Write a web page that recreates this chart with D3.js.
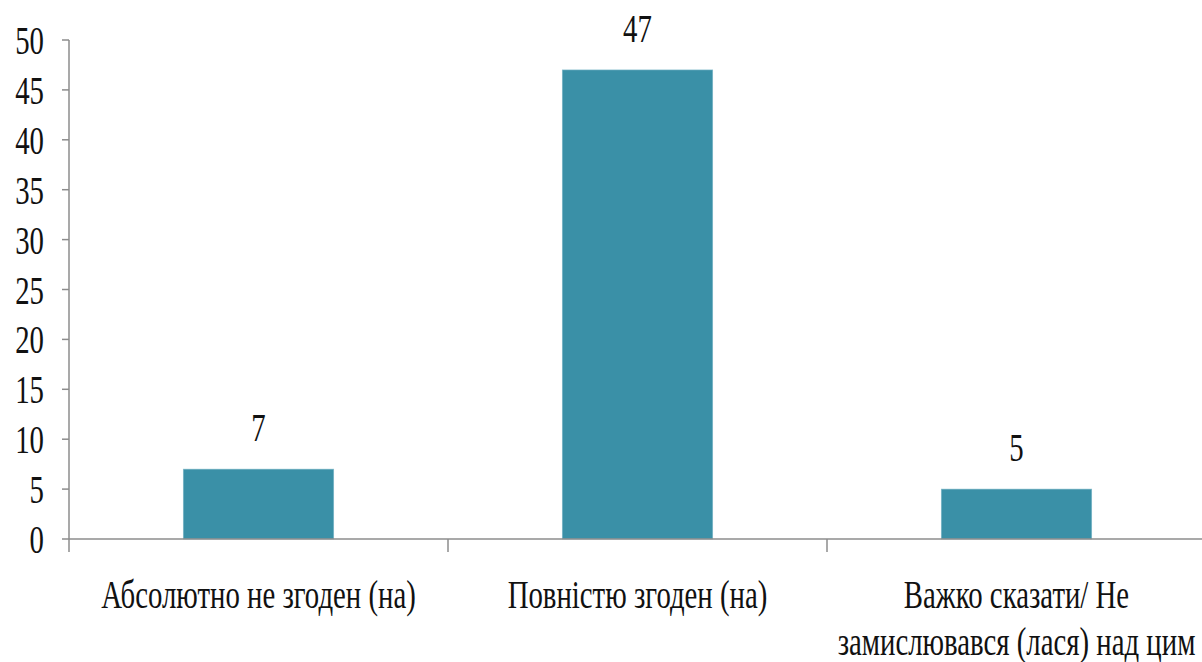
<!DOCTYPE html>
<html>
<head>
<meta charset="utf-8">
<script src="https://cdn.jsdelivr.net/npm/d3@7"></script>
<style>
  body { margin: 0; background: #fff; }
  text { font-family: "Liberation Serif", "Times New Roman", serif; fill: #111; }
</style>
</head>
<body>
<svg width="1202" height="662"></svg>
<script>
// survey answers, percent
var categories = ["Абсолютно не згоден (на)", "Повністю згоден (на)", "Важко сказати/ Не|замислювався (лася) над цим"];
var values     = [7, 47, 5];
var yTicks     = [0, 5, 10, 15, 20, 25, 30, 35, 40, 45, 50];

var svg      = d3.select("svg");
var plotLeft   = 69;
var plotRight  = 1206;
var plotTop    = 40;
var plotBottom = 539;
var fontSize = 40;
var squeeze  = 0.72;   // text in the picture is narrow, squash it horizontally

var x = d3.scaleBand().domain(categories).range([plotLeft, plotRight]).padding(0);
var y = d3.scaleLinear().domain([0, 50]).range([plotBottom, plotTop]);
var barWidth = x.bandwidth() * 0.397;

// y axis line + ticks
svg.append("line")
    .attr("x1", plotLeft).attr("x2", plotLeft)
    .attr("y1", y(50)).attr("y2", y(0))
    .attr("stroke", "#8c8c8c").attr("stroke-width", 1.5);

svg.selectAll(".ytick")
  .data(yTicks)
  .enter().append("line")
    .attr("x1", plotLeft - 7).attr("x2", plotLeft)
    .attr("y1", function(d) { return y(d); })
    .attr("y2", function(d) { return y(d); })
    .attr("stroke", "#8c8c8c").attr("stroke-width", 1.5);

svg.selectAll(".ylabel")
  .data(yTicks)
  .enter().append("text")
    .attr("text-anchor", "end")
    .attr("font-size", fontSize)
    .attr("transform", function(d) { return "translate(44," + (y(d) + 14) + ") scale(" + squeeze + ",1)"; })
    .text(function(d) { return d; });

// bars
svg.selectAll(".bar")
  .data(values)
  .enter().append("rect")
    .attr("x", function(d, i) { return x(categories[i]) + (x.bandwidth() - barWidth) / 2; })
    .attr("y", function(d) { return y(d); })
    .attr("width", barWidth)
    .attr("height", function(d) { return y(0) - y(d); })
    .attr("fill", "#3a90a7")
    .attr("stroke", "#7fb8c8").attr("stroke-width", 0.6);

// x axis line + boundary ticks
svg.append("line")
    .attr("x1", plotLeft).attr("x2", plotRight)
    .attr("y1", y(0)).attr("y2", y(0))
    .attr("stroke", "#8c8c8c").attr("stroke-width", 1.5);

svg.selectAll(".xtick")
  .data(categories)
  .enter().append("line")
    .attr("x1", function(d) { return x(d); })
    .attr("x2", function(d) { return x(d); })
    .attr("y1", y(0)).attr("y2", y(0) + 13)
    .attr("stroke", "#8c8c8c").attr("stroke-width", 1.5);

// value labels
svg.selectAll(".value")
  .data(values)
  .enter().append("text")
    .attr("text-anchor", "middle")
    .attr("font-size", fontSize)
    .attr("transform", function(d, i) {
      return "translate(" + (x(categories[i]) + x.bandwidth() / 2) + "," + (y(d) - 28) + ") scale(" + squeeze + ",1)";
    })
    .text(function(d) { return d; });

// category labels, "|" splits lines
categories.forEach(function(c) {
  var lines = c.split("|");
  var cx = x(c) + x.bandwidth() / 2;
  lines.forEach(function(line, j) {
    svg.append("text")
      .attr("text-anchor", "middle")
      .attr("font-size", fontSize)
      .attr("transform", "translate(" + cx + "," + (608 + j * 47) + ") scale(" + squeeze + ",1)")
      .text(line);
  });
});
</script>
</body>
</html>
